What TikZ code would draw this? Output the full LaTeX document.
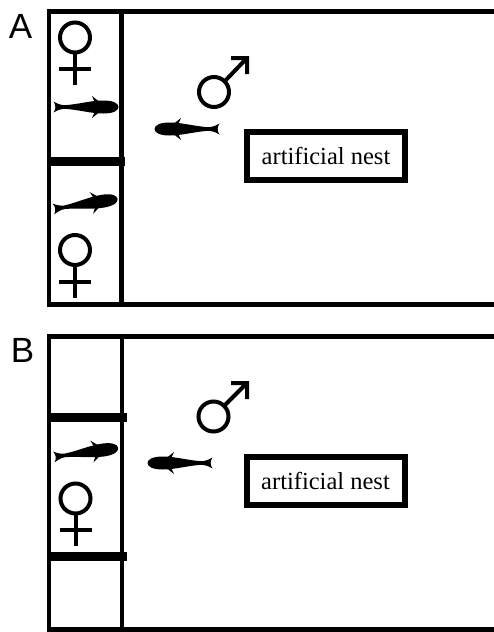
\documentclass[tikz,border=0pt]{standalone}
\usepackage{fontspec}
\setmainfont{Liberation Serif}
\newfontfamily\labelfont{Liberation Sans}
\begin{document}
\begin{tikzpicture}[x=1pt,y=-1pt,
  tank/.style={line width=4.8pt},
  divider/.style={line width=9pt},
  nestbox/.style={draw,line width=6pt,minimum width=158pt,minimum height=48pt,inner sep=0pt,font=\fontsize{24.5}{28}\selectfont},
  panellabel/.style={font=\labelfont\fontsize{35}{40}\selectfont,anchor=base,inner sep=0pt},
  sexsym/.style={line width=4pt},
  fish/.pic={
    \fill (-32,5.5) .. controls (-28,3.2) and (-25,2) .. (-21,1.8)
      .. controls (-8,2.5) and (5,6.5) .. (18,6.5)
      .. controls (28,6.5) and (33,3.5) .. (33,0)
      .. controls (33,-3.5) and (28,-6.5) .. (18,-6.5)
      .. controls (5,-6.5) and (-8,-2.5) .. (-21,-1.8)
      .. controls (-25,-2) and (-28,-3.2) .. (-32,-5.5)
      .. controls (-29.5,-2) and (-29.5,2) .. (-32,5.5) -- cycle;
    \fill (9,5.5) -- (6.5,11) -- (13.5,5.5) -- cycle;
    \fill (9,-5.5) -- (6.5,-11) -- (13.5,-5.5) -- cycle;
  }]
\useasboundingbox (0,0) rectangle (494,632);

% ---------- panel A ----------
\node[panellabel] (labA) at (20.5,38) {A};
\draw[tank] (494,11.5) -- (49,11.5) -- (49,304.5) -- (494,304.5);
\draw[tank] (121.5,11.5) -- (121.5,304.5);
\draw[divider] (47,161.5) -- (125,161.5);

% female, upper compartment
\draw[sexsym] (75,37.5) circle (15);
\draw[sexsym] (75,52.5) -- (75,85) (59,69) -- (91,69);
\pic at (85.5,107) {fish};
% female, lower compartment
\pic[rotate=9] at (85,204) {fish};
\draw[sexsym] (75,250) circle (15);
\draw[sexsym] (75,265) -- (75,298) (59,282) -- (91,282);
% male
\draw[sexsym] (214,92) circle (15);
\draw[sexsym,line join=miter] (224.6,81.4) -- (247,58) (231,58) -- (247,58) -- (247,74);
\pic[xscale=-1] at (187.5,129) {fish};
\node[nestbox] (nestA) at (326,156) {artificial nest};

% ---------- panel B ----------
\node[panellabel] (labB) at (22.5,362) {B};
\draw[tank] (494,336.5) -- (49,336.5) -- (49,629.5) -- (494,629.5);
\draw[tank] (122,336.5) -- (122,629.5);
\draw[divider] (47,417.5) -- (127,417.5);
\draw[divider] (47,556.5) -- (127,556.5);

% female, middle compartment
\pic[rotate=8] at (85.5,452.5) {fish};
\draw[sexsym] (75.5,498.5) circle (15);
\draw[sexsym] (75.5,513.5) -- (75.5,546) (59.5,530) -- (91.5,530);
% male
\draw[sexsym] (213.5,416.5) circle (15);
\draw[sexsym,line join=miter] (224.1,405.9) -- (247,383) (231,383) -- (247,383) -- (247,399);
\pic[xscale=-1] at (180.5,463) {fish};
\node[nestbox] (nestB) at (325.5,481) {artificial nest};
\end{tikzpicture}
\end{document}
